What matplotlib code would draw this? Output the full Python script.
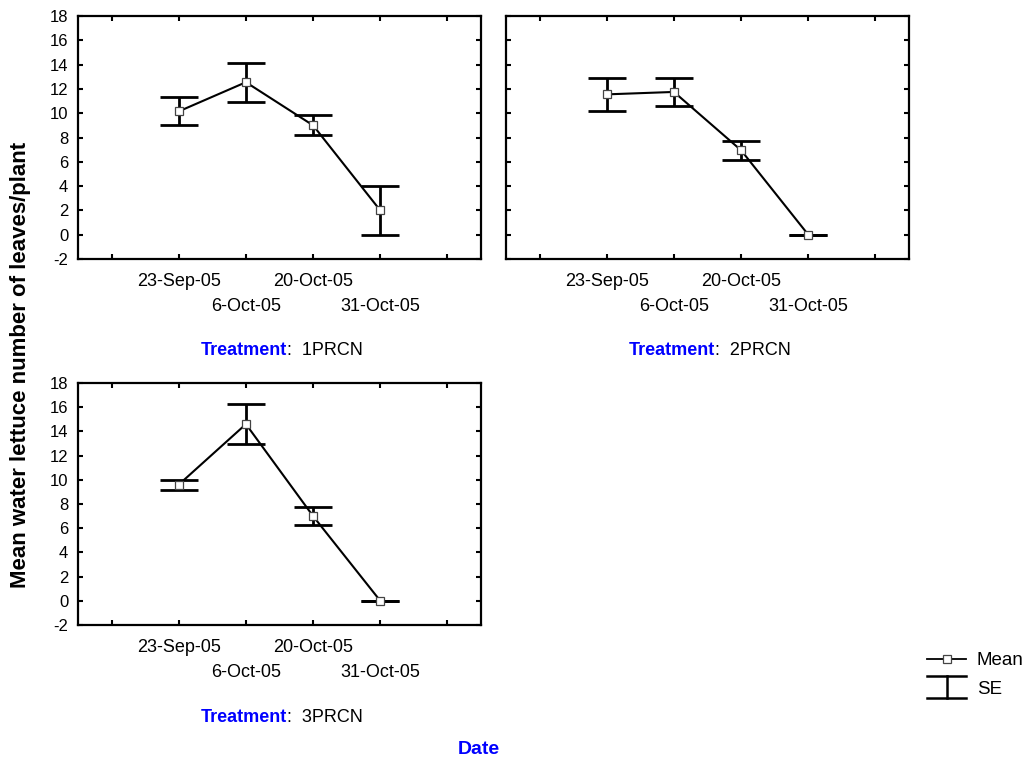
import matplotlib
matplotlib.use('Agg')
import matplotlib.pyplot as plt
from matplotlib.lines import Line2D
from matplotlib.legend_handler import HandlerBase

plt.rcParams['font.family'] = ['Liberation Sans', 'DejaVu Sans']
plt.rcParams['axes.unicode_minus'] = False

dates = ['23-Sep-05', '6-Oct-05', '20-Oct-05', '31-Oct-05']
treatments = ['1PRCN', '2PRCN', '3PRCN']
mean_1 = [10.15, 12.55, 9.0, 2.0]
se_1 = [1.15, 1.6, 0.83, 2.0]
mean_2 = [11.55, 11.75, 6.95, 0.0]
se_2 = [1.37, 1.17, 0.8, 0.0]
mean_3 = [9.6, 14.6, 7.0, 0.0]
se_3 = [0.42, 1.65, 0.73, 0.0]
yticks = [-2, 0, 2, 4, 6, 8, 10, 12, 14, 16, 18]

means = [mean_1, mean_2, mean_3]
ses = [se_1, se_2, se_3]

W, H = 1031, 758
fig = plt.figure(figsize=(W / 100, H / 100), dpi=100)


def rect(l, r, t, b):
    return [l / W, 1 - b / H, (r - l) / W, (b - t) / H]


boxes = [(78, 481, 16, 259), (506, 909, 16, 259), (78, 481, 383, 625)]
label_base = [355, 355, 721.5]
BLUE = '#0000ff'

for i, (box, m, s, tr) in enumerate(zip(boxes, means, ses, treatments)):
    ax = fig.add_axes(rect(*box))
    x = list(range(len(dates)))
    ax.errorbar(x, m, yerr=s, fmt='none', ecolor='black', elinewidth=2.0,
                capsize=14, capthick=2.0, zorder=2)
    ax.plot(x, m, '-', color='black', lw=1.5, zorder=3)
    ax.plot(x, m, 's', mfc='white', mec='#444444', ms=5.5, mew=0.9, zorder=4)
    ax.set_xlim(-1.5, len(dates) + 0.5)
    ax.set_ylim(-2, 18)
    ax.set_yticks(yticks)
    ax.set_xticks(range(-1, len(dates) + 1))
    ax.set_xticklabels([''] + dates + [''])
    for sp in ax.spines.values():
        sp.set_linewidth(1.6)
    ax.tick_params(direction='in', top=True, right=True, length=3.5, width=1.5,
                   labelsize=12)
    ax.tick_params(axis='x', pad=10, labelsize=13)
    ax.tick_params(axis='y', pad=7)
    if i == 1:
        ax.tick_params(axis='y', labelleft=False)
    ticks = ax.xaxis.get_major_ticks()
    for k in (2, 4):
        ticks[k].set_pad(28)
    # treatment label
    jx = box[0] + 209
    fig.text(jx / W, 1 - label_base[i] / H, 'Treatment', color=BLUE,
             fontweight='bold', fontsize=13, ha='right', va='baseline')
    fig.text(jx / W, 1 - label_base[i] / H, ':  ' + tr, color='black',
             fontsize=13, ha='left', va='baseline')

fig.text(21 / W, 1 - 365 / H, 'Mean water lettuce number of leaves/plant',
         rotation=90, fontsize=16, fontweight='bold', ha='center', va='center')
fig.text(479 / W, 1 - 754 / H, 'Date', color=BLUE, fontsize=14,
         fontweight='bold', ha='center', va='baseline')


class SEHandler(HandlerBase):
    def create_artists(self, legend, orig_handle, xdescent, ydescent, width,
                       height, fontsize, trans):
        cx = -xdescent + width / 2
        y0 = -ydescent - 0.35 * height
        y1 = -ydescent + 1.35 * height
        arts = [
            Line2D([cx, cx], [y0, y1], color='black', lw=1.8),
            Line2D([-xdescent, -xdescent + width], [y0, y0], color='black', lw=1.8),
            Line2D([-xdescent, -xdescent + width], [y1, y1], color='black', lw=1.8),
        ]
        for a in arts:
            a.set_transform(trans)
        return arts


mean_handle = Line2D([], [], color='black', lw=1.3, marker='s', mfc='white',
                     mec='#444444', ms=6, mew=0.9)
se_handle = object()
fig.legend([mean_handle, se_handle], ['Mean', 'SE'],
           handler_map={se_handle: SEHandler()},
           loc='upper left', bbox_to_anchor=(927 / W, 1 - 652 / H),
           frameon=False, fontsize=13.5, handlelength=2.1, handletextpad=0.55,
           borderpad=0, borderaxespad=0, labelspacing=0.6, numpoints=1)

fig.savefig('out.png', dpi=100)
